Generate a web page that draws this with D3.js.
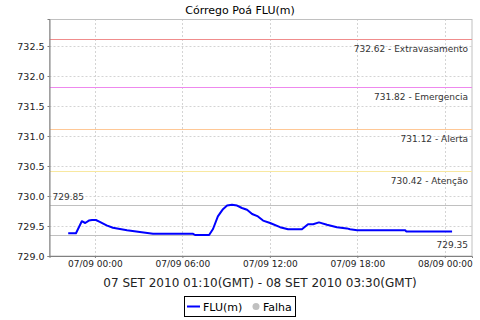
<!DOCTYPE html>
<html><head><meta charset="utf-8">
<script src="https://cdn.jsdelivr.net/npm/d3@7"></script>
<style>
html,body{margin:0;padding:0;background:#fff;}
svg{display:block;font-family:"DejaVu Sans",sans-serif;}
</style></head>
<body><svg id="c" width="480" height="320"></svg>
<script>
const title = "Córrego Poá FLU(m)";
const subtitle = "07 SET 2010 01:10(GMT) - 08 SET 2010 03:30(GMT)";
const seriesName = "FLU(m)";
const failName = "Falha";
// local times (GMT-3) and level values
const times = ["2010-09-06 22:10","2010-09-06 22:42","2010-09-06 23:06","2010-09-06 23:20","2010-09-06 23:35","2010-09-06 23:48",
 "2010-09-07 00:04","2010-09-07 00:20","2010-09-07 00:48","2010-09-07 01:14","2010-09-07 01:43","2010-09-07 02:12",
 "2010-09-07 03:05","2010-09-07 03:59","2010-09-07 06:44","2010-09-07 06:52","2010-09-07 07:50","2010-09-07 08:06",
 "2010-09-07 08:26","2010-09-07 08:47","2010-09-07 09:04","2010-09-07 09:24","2010-09-07 09:45","2010-09-07 10:05",
 "2010-09-07 10:26","2010-09-07 10:47","2010-09-07 11:11","2010-09-07 11:32","2010-09-07 12:01","2010-09-07 12:42",
 "2010-09-07 13:15","2010-09-07 14:12","2010-09-07 14:37","2010-09-07 14:58","2010-09-07 15:22","2010-09-07 15:55",
 "2010-09-07 16:36","2010-09-07 17:17","2010-09-07 17:30","2010-09-07 17:59","2010-09-07 21:17","2010-09-07 21:21",
 "2010-09-08 00:30"];
const values = [729.38,729.38,729.58,729.55,729.59,729.60,
 729.60,729.57,729.51,729.47,729.45,729.43,
 729.40,729.37,729.37,729.35,729.35,729.45,
 729.66,729.78,729.84,729.855,729.84,729.80,
 729.77,729.70,729.66,729.59,729.55,729.48,
 729.445,729.445,729.53,729.53,729.56,729.52,
 729.48,729.46,729.445,729.43,729.43,729.41,
 729.41];
const thrValues = [732.62,731.82,731.12,730.42,729.85,729.35];
const thrLabels = ["732.62 - Extravasamento","731.82 - Emergencia","731.12 - Alerta","730.42 - Atenção","729.85","729.35"];
const thrColors = ["#f08c8c","#ee88ee","#ffc896","#f8e8a0","#c0c0c0","#c0c0c0"];
const thrAnchor = ["end","end","end","end","start","end"];
const yTicks = [729.0,729.5,730.0,730.5,731.0,731.5,732.0,732.5];
const xTicks = ["2010-09-07 00:00","2010-09-07 06:00","2010-09-07 12:00","2010-09-07 18:00","2010-09-08 00:00"];
const xDomain = ["2010-09-06 20:53","2010-09-08 01:52"];
const yDomain = [729.0,732.95];

const parse = d3.utcParse("%Y-%m-%d %H:%M");
const fmt = d3.utcFormat("%d/%m %H:%M");
const data = times.map((t,i)=>({t:parse(t),v:values[i]}));

const svg = d3.select("#c");
const L=49.5, R=472, T=19, B=256;
const x = d3.scaleUtc().domain(xDomain.map(parse)).range([L,R]);
const y = d3.scaleLinear().domain(yDomain).range([B,T]);

// title
svg.append("text").attr("x",240).attr("y",14).attr("text-anchor","middle")
  .attr("font-size",11).attr("fill","#000").text(title);

// grid
const g = svg.append("g");
g.selectAll(".gy").data(yTicks.slice(1)).join("line")
  .attr("x1",L).attr("x2",R).attr("y1",d=>Math.round(y(d))+0.5).attr("y2",d=>Math.round(y(d))+0.5)
  .attr("stroke","#d4d4d4").attr("stroke-dasharray","2,2");
g.selectAll(".gx").data(xTicks.map(parse)).join("line")
  .attr("y1",T).attr("y2",B).attr("x1",d=>Math.round(x(d))+0.5).attr("x2",d=>Math.round(x(d))+0.5)
  .attr("stroke","#d4d4d4").attr("stroke-dasharray","2,2");

// plot border
svg.append("rect").attr("x",L).attr("y",T+0.5).attr("width",R-L).attr("height",B-T-0.5)
  .attr("fill","none").attr("stroke","#c0c0c0");

// thresholds
thrValues.forEach((v,i)=>{
  const yy = Math.round(y(v))+0.5;
  svg.append("line").attr("x1",L).attr("x2",R).attr("y1",yy).attr("y2",yy)
    .attr("stroke",thrColors[i]).attr("stroke-width",1);
  const t = svg.append("text").attr("font-size",9).attr("fill","#333")
    .attr("text-anchor",thrAnchor[i]).text(thrLabels[i]);
  if (thrAnchor[i]==="start") t.attr("x",L+3).attr("y",yy-5.5);
  else t.attr("x",R-4).attr("y",yy+12);
});

// series line
const line = d3.line().x(d=>x(d.t)).y(d=>y(d.v)).curve(d3.curveLinear);
svg.append("path").datum(data).attr("d",line).attr("fill","none")
  .attr("stroke","#0000ff").attr("stroke-width",2).attr("stroke-linejoin","round");

// axes
const ya = d3.axisLeft(y).tickValues(yTicks).tickFormat(d3.format(".1f")).tickSize(2).tickPadding(3);
const yg = svg.append("g").attr("transform",`translate(${L},0)`).call(ya);
yg.select(".domain").attr("stroke","#808080");
yg.selectAll(".tick line").attr("stroke","#808080");
yg.selectAll("text").attr("font-size",9.5).attr("font-family","DejaVu Sans").attr("fill","#222");

const xa = d3.axisBottom(x).tickValues(xTicks.map(parse)).tickFormat(fmt).tickSize(2).tickPadding(3);
const xg = svg.append("g").attr("transform",`translate(0,${B})`).call(xa);
xg.select(".domain").attr("stroke","#808080");
xg.selectAll(".tick line").attr("stroke","#808080");
xg.selectAll("text").attr("font-size",9).attr("font-family","DejaVu Sans").attr("fill","#222");

// subtitle
svg.append("text").attr("x",260).attr("y",287).attr("text-anchor","middle")
  .attr("font-size",12).attr("fill","#222").text(subtitle);

// legend
const lg = svg.append("g");
lg.append("rect").attr("x",184.5).attr("y",296.5).attr("width",111).attr("height",20)
  .attr("fill","#fff").attr("stroke","#000");
lg.append("line").attr("x1",187).attr("x2",200).attr("y1",306.5).attr("y2",306.5)
  .attr("stroke","#0000ff").attr("stroke-width",2);
lg.append("text").attr("x",203).attr("y",310.5).attr("font-size",11).attr("fill","#000").text(seriesName);
lg.append("circle").attr("cx",256).attr("cy",306.5).attr("r",3.5).attr("fill","#c0c0c0");
lg.append("text").attr("x",263).attr("y",310.5).attr("font-size",11).attr("fill","#000").text(failName);
</script></body></html>
